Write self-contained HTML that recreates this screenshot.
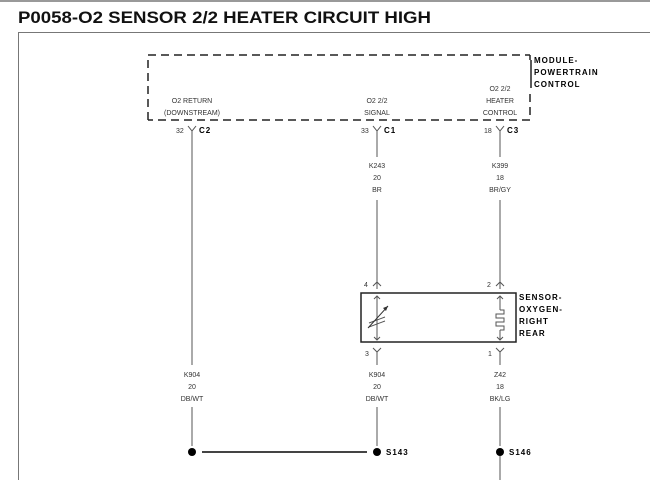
<!DOCTYPE html>
<html><head><meta charset="utf-8"><style>
html,body{margin:0;padding:0;background:#fff;}
svg{display:block;}
.t{font-family:"Liberation Sans",sans-serif;font-size:7px;fill:#333;}
.b{font-family:"Liberation Sans",sans-serif;font-size:8px;font-weight:bold;fill:#000;letter-spacing:1px;}
</style></head><body>
<svg width="650" height="480" viewBox="0 0 650 480" xmlns="http://www.w3.org/2000/svg">
<rect width="650" height="480" fill="#fff"/>
<line x1="0" y1="1" x2="650" y2="1" stroke="#999" stroke-width="2"/>
<text x="18" y="23" font-family="Liberation Sans,sans-serif" font-size="17" font-weight="bold" fill="#111" textLength="413" lengthAdjust="spacingAndGlyphs">P0058-O2 SENSOR 2/2 HEATER CIRCUIT HIGH</text>
<path d="M18.5 480 V32.5 H650" fill="none" stroke="#777" stroke-width="1"/>
<!-- dashed module box -->
<path d="M148 120 V55 H530 M530 55 V60 M530 94 V120 H148" fill="none" stroke="#222" stroke-width="1.5" stroke-dasharray="8,5"/>
<text class="b" x="534" y="63">MODULE-</text>
<text class="b" x="534" y="75">POWERTRAIN</text>
<text class="b" x="534" y="87">CONTROL</text>
<line x1="531" y1="60" x2="531" y2="88" stroke="#222" stroke-width="1.5"/>
<g text-anchor="middle">
<text class="t" x="192" y="103">O2 RETURN</text>
<text class="t" x="192" y="115">(DOWNSTREAM)</text>
<text class="t" x="377" y="103">O2 2/2</text>
<text class="t" x="377" y="115">SIGNAL</text>
<text class="t" x="500" y="91">O2 2/2</text>
<text class="t" x="500" y="103">HEATER</text>
<text class="t" x="500" y="115">CONTROL</text>
</g>
<g fill="none" stroke="#555" stroke-width="1">
<!-- connector Ys top -->
<path d="M188 126 L192 131 L196 126 M192 131 V365 M192 407 V446"/>
<path d="M373 126 L377 131 L381 126 M377 131 V157 M377 200 V289 M373 286 L377 282 L381 286"/>
<path d="M496 126 L500 131 L504 126 M500 131 V157 M500 200 V289 M496 286 L500 282 L504 286"/>
<path d="M373 348 L377 352 L381 348 M377 352 V365 M377 407 V446"/>
<path d="M496 348 L500 352 L504 348 M500 352 V365 M500 407 V446 M500 456 V480"/>
<!-- inside box -->
<path d="M377 296 V340 M374 299 L377 296 L380 299 M374 337 L377 340 L380 337"/>
<path d="M500 296 V310 M500 330 V340 M497 299 L500 296 L503 299 M497 337 L500 340 L503 337"/>
<path d="M500 310 H504 V314 H496 V318 H504 V322 H496 V326 H504 V330 H500"/>
<path d="M369 323 L385 317 M369 327 L385 321"/>
</g>
<path d="M368 328 L388 306" stroke="#333" stroke-width="1"/>
<path d="M388 306 L383 308 L386 311 Z" fill="#333"/>
<rect x="361" y="293" width="155" height="49" fill="none" stroke="#222" stroke-width="1.5"/>
<text class="b" x="519" y="300">SENSOR-</text>
<text class="b" x="519" y="312">OXYGEN-</text>
<text class="b" x="519" y="324">RIGHT</text>
<text class="b" x="519" y="336">REAR</text>
<g class="t">
<text class="t" x="176" y="133">32</text>
<text class="t" x="361" y="133">33</text>
<text class="t" x="484" y="133">18</text>
<text class="t" x="364" y="287">4</text>
<text class="t" x="487" y="287">2</text>
<text class="t" x="365" y="356">3</text>
<text class="t" x="488" y="356">1</text>
</g>
<text class="b" x="199" y="133" letter-spacing="0">C2</text>
<text class="b" x="384" y="133" letter-spacing="0">C1</text>
<text class="b" x="507" y="133" letter-spacing="0">C3</text>
<g text-anchor="middle">
<text class="t" x="377" y="168">K243</text>
<text class="t" x="377" y="180">20</text>
<text class="t" x="377" y="192">BR</text>
<text class="t" x="500" y="168">K399</text>
<text class="t" x="500" y="180">18</text>
<text class="t" x="500" y="192">BR/GY</text>
<text class="t" x="192" y="377">K904</text>
<text class="t" x="192" y="389">20</text>
<text class="t" x="192" y="401">DB/WT</text>
<text class="t" x="377" y="377">K904</text>
<text class="t" x="377" y="389">20</text>
<text class="t" x="377" y="401">DB/WT</text>
<text class="t" x="500" y="377">Z42</text>
<text class="t" x="500" y="389">18</text>
<text class="t" x="500" y="401">BK/LG</text>
</g>
<line x1="202" y1="452" x2="367" y2="452" stroke="#444" stroke-width="2"/>
<circle cx="192" cy="452" r="4" fill="#000"/>
<circle cx="377" cy="452" r="4" fill="#000"/>
<circle cx="500" cy="452" r="4" fill="#000"/>
<text class="b" x="386" y="455" letter-spacing="0.5">S143</text>
<text class="b" x="509" y="455" letter-spacing="0.5">S146</text>
</svg>
</body></html>
